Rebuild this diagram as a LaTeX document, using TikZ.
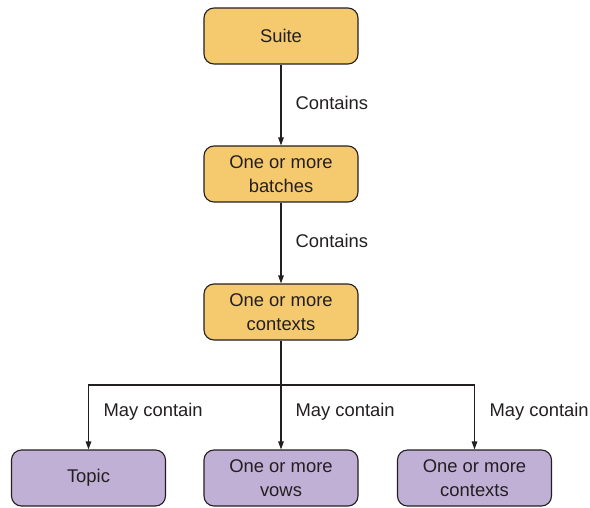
\documentclass[tikz,border=0pt]{standalone}
\usepackage{fontspec}
\setmainfont{Liberation Sans}
\usetikzlibrary{arrows.meta}
\definecolor{boxyellow}{HTML}{F5C96E}
\definecolor{boxpurple}{HTML}{C0B0D5}
\definecolor{ink}{HTML}{231F20}
\begin{document}
\begin{tikzpicture}[x=1pt,y=1pt,>={Triangle[length=8pt,width=5.5pt]},line width=1.1pt,
  box/.style={draw=ink,rounded corners=10pt,minimum width=154pt,minimum height=56pt,align=center,
    text=ink,font=\fontsize{18.4}{24}\selectfont,inner sep=0pt},
  lbl/.style={right,inner sep=0pt,text=ink,font=\fontsize{18.4}{22}\selectfont}]
\useasboundingbox (0,0) rectangle (590,-507);
\node[box,fill=boxyellow] (suite) at (281,-36) {Suite};
\node[box,fill=boxyellow] (batches) at (281,-174) {One or more\\batches};
\node[box,fill=boxyellow] (contexts) at (281,-312) {One or more\\contexts};
\node[box,fill=boxpurple] (topic) at (88.5,-478) {Topic};
\node[box,fill=boxpurple] (vows) at (281,-478) {One or more\\vows};
\node[box,fill=boxpurple] (subctx) at (474.5,-478) {One or more\\contexts};
\coordinate (split) at (281,-385);
% connectors
\draw[->,ink](suite)--(batches);
\draw[->,ink](batches)--(contexts);
\draw[ink](contexts)--(split);
\draw[->,ink](split)--(vows);
\draw[->,ink](split)-|(topic);
\draw[->,ink](split)-|(subctx);
% labels
\node[lbl] (c1) at (295,-103) {Contains};
\node[lbl] (c2) at (295,-241) {Contains};
\node[lbl] (m1) at (103,-412) {May contain};
\node[lbl] (m2) at (295,-412) {May contain};
\node[lbl] (m3) at (489,-412) {May contain};
\end{tikzpicture}
\end{document}
